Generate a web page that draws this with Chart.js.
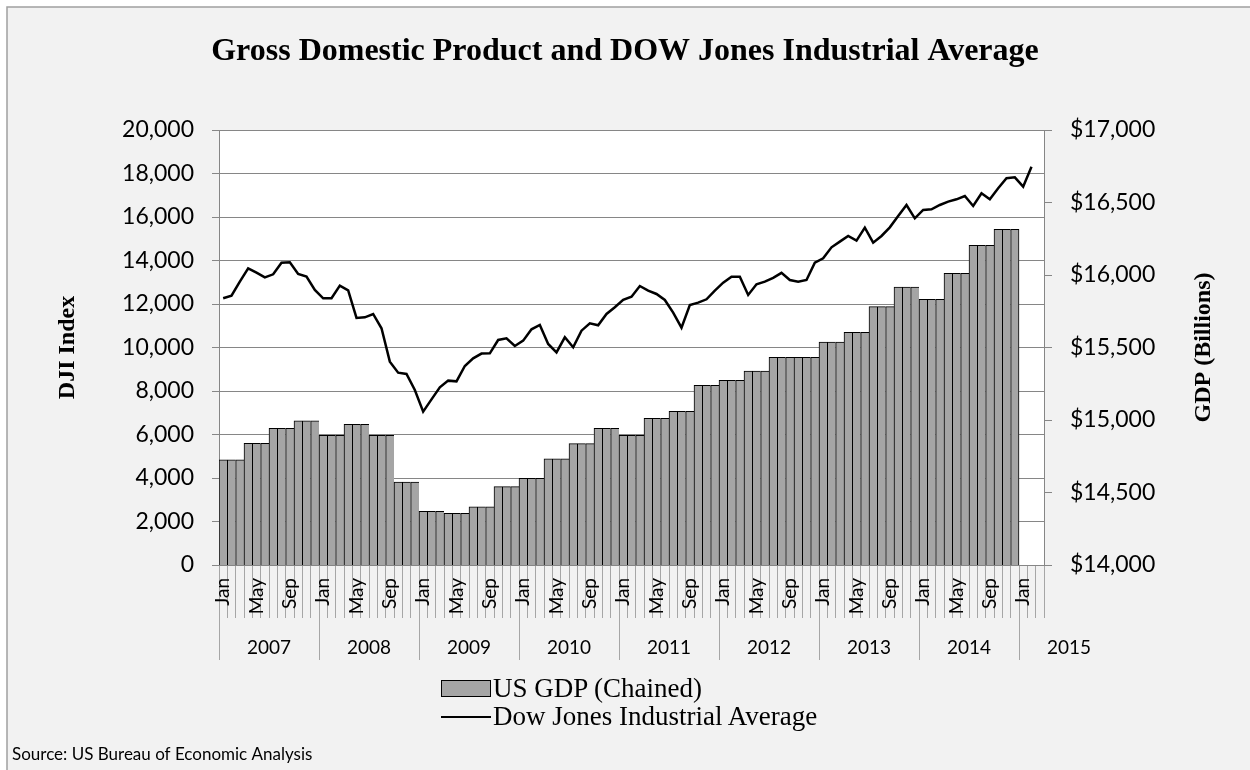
<!DOCTYPE html>
<html>
<head>
<meta charset="utf-8">
<script src="https://cdn.jsdelivr.net/npm/chart.js@4.4.1/dist/chart.umd.min.js"></script>
<style>
  html, body { margin: 0; padding: 0; background: #fff; }
  #wrap { position: relative; width: 1250px; height: 770px; }
  #legend { position: absolute; left: 441px; top: 674px; font-family: 'Liberation Serif', serif; font-size: 27px; color: #000; }
  #legend .row { height: 28px; line-height: 28px; white-space: nowrap; }
  #legend .sw { display: inline-block; width: 50px; vertical-align: middle; margin-right: 2px; position: relative; top: -2px; }
  #legend .box { height: 17px; background: #a5a5a5; border: 1px solid #000; box-sizing: border-box; }
  #legend .line { height: 2.5px; background: #000; }
</style>
</head>
<body>
<div id="wrap">
  <canvas id="myChart" width="1250" height="770"></canvas>
  <div id="legend"></div>
</div>
<script>
// Chart data
const monthNames = ['Jan', 'Feb', 'Mar', 'Apr', 'May', 'Jun', 'Jul', 'Aug', 'Sep', 'Oct', 'Nov', 'Dec'];
const yearLabels = ['2007', '2008', '2009', '2010', '2011', '2012', '2013', '2014', '2015'];
const monthCount = 99; // Jan 2007 .. Mar 2015

// US GDP (Chained), $ billions, quarterly values shown on each month
const gdpValues = [
  14726, 14726, 14726, 14839, 14839, 14839, 14943, 14943, 14943, 14995, 14995, 14995, // 2007
  14894, 14894, 14894, 14970, 14970, 14970, 14894, 14894, 14894, 14572, 14572, 14572, // 2008
  14370, 14370, 14370, 14356, 14356, 14356, 14402, 14402, 14402, 14540, 14540, 14540, // 2009
  14598, 14598, 14598, 14733, 14733, 14733, 14837, 14837, 14837, 14943, 14943, 14943, // 2010
  14894, 14894, 14894, 15012, 15012, 15012, 15060, 15060, 15060, 15239, 15239, 15239, // 2011
  15274, 15274, 15274, 15338, 15338, 15338, 15432, 15432, 15432, 15432, 15432, 15432, // 2012
  15538, 15538, 15538, 15605, 15605, 15605, 15782, 15782, 15782, 15917, 15917, 15917, // 2013
  15832, 15832, 15832, 16012, 16012, 16012, 16205, 16205, 16205, 16315, 16315, 16315  // 2014
];

// Dow Jones Industrial Average, monthly
const djiValues = [
  12263, 12383, 13027, 13641, 13441, 13227, 13365, 13901, 13916, 13380, 13257, 12645, // 2007
  12263, 12263, 12844, 12629, 11357, 11389, 11541, 10882, 9349, 8843, 8782, 8047,      // 2008
  7050, 7617, 8169, 8476, 8445, 9150, 9503, 9720, 9733, 10346, 10422, 10070,           // 2009
  10315, 10836, 11035, 10162, 9778, 10468, 10009, 10774, 11112, 11020, 11541, 11848,   // 2010
  12190, 12337, 12828, 12613, 12461, 12185, 11602, 10912, 11955, 12061, 12216, 12613,  // 2011
  12981, 13257, 13257, 12415, 12906, 13027, 13200, 13430, 13104, 13027, 13104, 13901,  // 2012
  14100, 14606, 14867, 15127, 14913, 15510, 14821, 15127, 15525, 16047, 16553, 15940,  // 2013
  16323, 16354, 16553, 16706, 16813, 16967, 16507, 17089, 16813, 17319, 17779, 17825,  // 2014
  17396, 18315, null                                                                   // 2015
];

const titleText = 'Gross Domestic Product and DOW Jones Industrial Average';
const leftAxisTitle = 'DJI Index';
const rightAxisTitle = 'GDP (Billions)';
const sourceText = 'Source: US Bureau of Economic Analysis';

// category labels: "Jan 2007" ... "Mar 2015"
const categories = [];
for (let i = 0; i < monthCount; i++) {
  categories.push(monthNames[i % 12] + ' ' + yearLabels[Math.floor(i / 12)]);
}

// year row: separators at year boundaries, label in the middle of each year
const yearTicks = [];
yearLabels.forEach((y, k) => {
  yearTicks.push({ value: k * 12 - 0.5, label: '' });
  yearTicks.push({ value: k * 12 + 5.5, label: y });
});

const tickFont = { family: 'Lato', size: 23 };
const serifBold = (size) => ({ family: 'Liberation Serif', size: size, weight: 'bold' });
const gridGray = '#868686';
const tickGray = '#a6a6a6';

// frame, background and white plot area
const backdrop = {
  id: 'backdrop',
  beforeDraw(chart) {
    const { ctx, chartArea: a } = chart;
    ctx.save();
    ctx.fillStyle = '#fff';
    ctx.fillRect(0, 0, chart.width, chart.height);
    ctx.fillStyle = '#f2f2f2';
    ctx.fillRect(7, 7, chart.width, chart.height);
    ctx.strokeStyle = '#a0a0a0';
    ctx.lineWidth = 1.5;
    ctx.beginPath();
    ctx.moveTo(7, chart.height);
    ctx.lineTo(7, 7);
    ctx.lineTo(chart.width, 7);
    ctx.stroke();
    ctx.fillStyle = '#fff';
    ctx.fillRect(a.left, a.top, a.right - a.left, a.bottom - a.top);
    ctx.restore();
  }
};

// right axis title reads bottom-to-top like the left one
const rightTitle = {
  id: 'rightTitle',
  afterDraw(chart) {
    const { ctx, chartArea: a } = chart;
    const f = serifBold(24);
    ctx.save();
    ctx.translate(1204, (a.top + a.bottom) / 2);
    ctx.rotate(-Math.PI / 2);
    ctx.font = `${f.weight} ${f.size}px "${f.family}"`;
    ctx.fillStyle = '#000';
    ctx.textAlign = 'center';
    ctx.textBaseline = 'middle';
    ctx.fillText(rightAxisTitle, 0, 0);
    ctx.restore();
  }
};

const ctx = document.getElementById('myChart').getContext('2d');
const chart = new Chart(ctx, {
  type: 'bar',
  data: {
    labels: categories,
    datasets: [
      {
        type: 'line',
        label: 'Dow Jones Industrial Average',
        data: djiValues,
        yAxisID: 'y',
        borderColor: '#000',
        borderWidth: 2.5,
        pointRadius: 0,
        tension: 0,
        order: 0
      },
      {
        type: 'bar',
        label: 'US GDP (Chained)',
        data: gdpValues,
        yAxisID: 'y1',
        backgroundColor: '#a5a5a5',
        borderColor: '#000',
        borderWidth: (c) => ({ top: 1, left: 1, bottom: 0, right: c.dataIndex === gdpValues.length - 1 ? 1 : 0 }),
        borderSkipped: false,
        categoryPercentage: 1,
        barPercentage: 1,
        order: 1
      }
    ]
  },
  options: {
    responsive: false,
    animation: false,
    layout: { padding: { left: 12, right: 12, top: 0, bottom: 0 } },
    plugins: {
      legend: { display: false },
      tooltip: { enabled: false },
      title: {
        display: true,
        text: titleText,
        color: '#000',
        font: serifBold(32),
        padding: { top: 33, bottom: 58.6 }
      },
      subtitle: {
        display: true,
        text: sourceText,
        position: 'bottom',
        align: 'start',
        color: '#000',
        font: { family: 'Lato', size: 17 },
        padding: { top: 84.8, bottom: 4.8 }
      }
    },
    scales: {
      x: {
        type: 'category',
        offset: true,
        grid: { offset: true, drawOnChartArea: false, tickLength: 53, color: tickGray },
        border: { color: gridGray },
        ticks: {
          autoSkip: false,
          minRotation: 90,
          maxRotation: 90,
          padding: -40,
          color: '#000',
          font: { family: 'Lato', size: 19 },
          callback: (v, i) => (i % 4 === 0 ? monthNames[i % 12] : '')
        },
        afterFit(s) { s.height = 53; }
      },
      years: {
        type: 'linear',
        position: 'bottom',
        offset: false,
        min: -0.5,
        max: monthCount - 0.5,
        grid: {
          offset: false,
          drawOnChartArea: false,
          tickLength: 42,
          color: (c) => (c.tick && (c.tick.value + 0.5) % 12 === 0 ? tickGray : 'rgba(0,0,0,0)')
        },
        border: { display: false },
        afterBuildTicks(s) { s.ticks = yearTicks.map(t => ({ value: t.value })); },
        ticks: {
          autoSkip: false,
          maxRotation: 0,
          minRotation: 0,
          padding: -24,
          color: '#000',
          font: { family: 'Lato', size: 19 },
          callback: (v) => {
            const t = yearTicks.find(t => t.value === v);
            return t ? t.label : '';
          }
        },
        afterFit(s) { s.height = 42; }
      },
      y: {
        position: 'left',
        min: 0,
        max: 20000,
        grid: { color: gridGray, tickLength: 7 },
        border: { color: gridGray },
        ticks: {
          stepSize: 2000,
          padding: 18,
          color: '#000',
          font: tickFont,
          callback: (v) => v.toLocaleString('en-US')
        },
        title: {
          display: true,
          text: leftAxisTitle,
          color: '#000',
          font: serifBold(24),
          padding: { top: 41.6 }
        },
        afterFit(s) { s.width = 207; }
      },
      y1: {
        position: 'right',
        min: 14000,
        max: 17000,
        grid: { drawOnChartArea: false, color: gridGray, tickLength: 8 },
        border: { color: gridGray },
        ticks: {
          stepSize: 500,
          padding: 18,
          color: '#000',
          font: tickFont,
          callback: (v) => '$' + v.toLocaleString('en-US')
        },
        afterFit(s) { s.width = 194; }
      }
    }
  },
  plugins: [backdrop, rightTitle]
});

// HTML legend built from the datasets: bars first, then the line
const legendEl = document.getElementById('legend');
[1, 0].forEach(i => {
  const ds = chart.data.datasets[i];
  const row = document.createElement('div');
  row.className = 'row';
  const sw = document.createElement('span');
  sw.className = 'sw ' + (ds.type === 'bar' ? 'box' : 'line');
  row.appendChild(sw);
  row.appendChild(document.createTextNode(ds.label));
  legendEl.appendChild(row);
});
</script>
</body>
</html>
